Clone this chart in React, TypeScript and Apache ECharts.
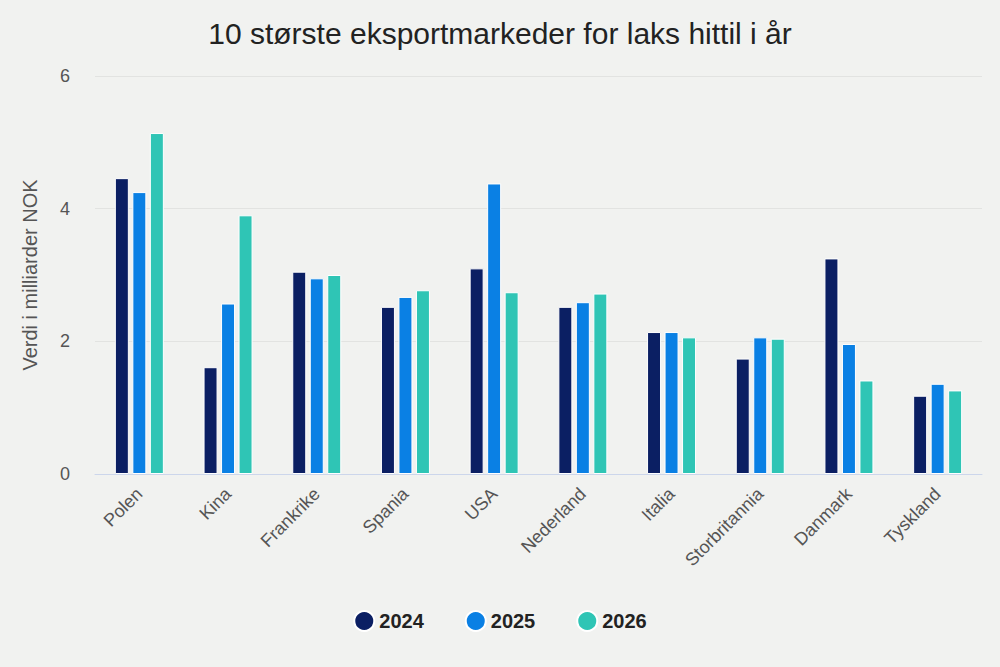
import React, { useEffect, useRef } from "react";
import * as echarts from "echarts";

const categories = ["Polen", "Kina", "Frankrike", "Spania", "USA", "Nederland", "Italia", "Storbritannia", "Danmark", "Tyskland"];
const values2024 = [4.46, 1.61, 3.05, 2.52, 3.10, 2.52, 2.14, 1.74, 3.25, 1.18];
const values2025 = [4.25, 2.57, 2.95, 2.67, 4.38, 2.59, 2.14, 2.06, 1.96, 1.36];
const values2026 = [5.14, 3.90, 3.00, 2.77, 2.74, 2.72, 2.06, 2.04, 1.41, 1.26];
const seriesNames = ["2024", "2025", "2026"];
const colors = ["#0b1f63", "#0a80e4", "#2fc5b5"];

export default function App() {
  const ref = useRef<HTMLDivElement>(null);
  useEffect(() => {
    document.body.style.margin = "0";
    const chart = echarts.init(ref.current!, null, { renderer: "svg" });
    const font = "Liberation Sans, Arial, sans-serif";
    const data = [values2024, values2025, values2026];
    chart.setOption({
      animation: false,
      backgroundColor: "#f1f2f0",
      textStyle: { fontFamily: font },
      color: colors,
      title: {
        text: "10 største eksportmarkeder for laks hittil i år",
        left: "center",
        top: 13,
        textStyle: { fontSize: 30, fontWeight: "normal", color: "#222", fontFamily: font },
      },
      legend: {
        data: seriesNames,
        bottom: 30,
        left: "center",
        icon: "circle",
        itemWidth: 20,
        itemHeight: 20,
        itemGap: 41,
        textStyle: { fontSize: 20, fontWeight: "bold", color: "#222", fontFamily: font },
      },
      grid: { left: 95, right: 18, top: 76, bottom: 193, containLabel: false },
      xAxis: {
        type: "category",
        data: categories,
        axisLine: { lineStyle: { color: "#ccd6eb" } },
        axisTick: { show: false },
        axisLabel: { rotate: 45, fontSize: 18, color: "#555", margin: 17, fontFamily: font },
      },
      yAxis: {
        type: "value",
        min: 0,
        max: 6,
        interval: 2,
        name: "Verdi i milliarder NOK",
        nameLocation: "middle",
        nameRotate: 90,
        nameGap: 55,
        nameTextStyle: { fontSize: 20, color: "#555", fontFamily: font },
        axisLabel: { fontSize: 18, color: "#555", margin: 25, fontFamily: font },
        splitLine: { lineStyle: { color: "#e2e3e1", width: 1 } },
        axisLine: { show: false },
        axisTick: { show: false },
      },
      series: seriesNames.map((name, i) => ({
        name,
        type: "bar",
        data: data[i],
        barWidth: 14,
        barGap: "25%",
        itemStyle: { color: colors[i], borderColor: "#ffffff", borderWidth: 1 },
      })),
    });
    return () => chart.dispose();
  }, []);
  return <div ref={ref} style={{ width: 1000, height: 667 }} />;
}
